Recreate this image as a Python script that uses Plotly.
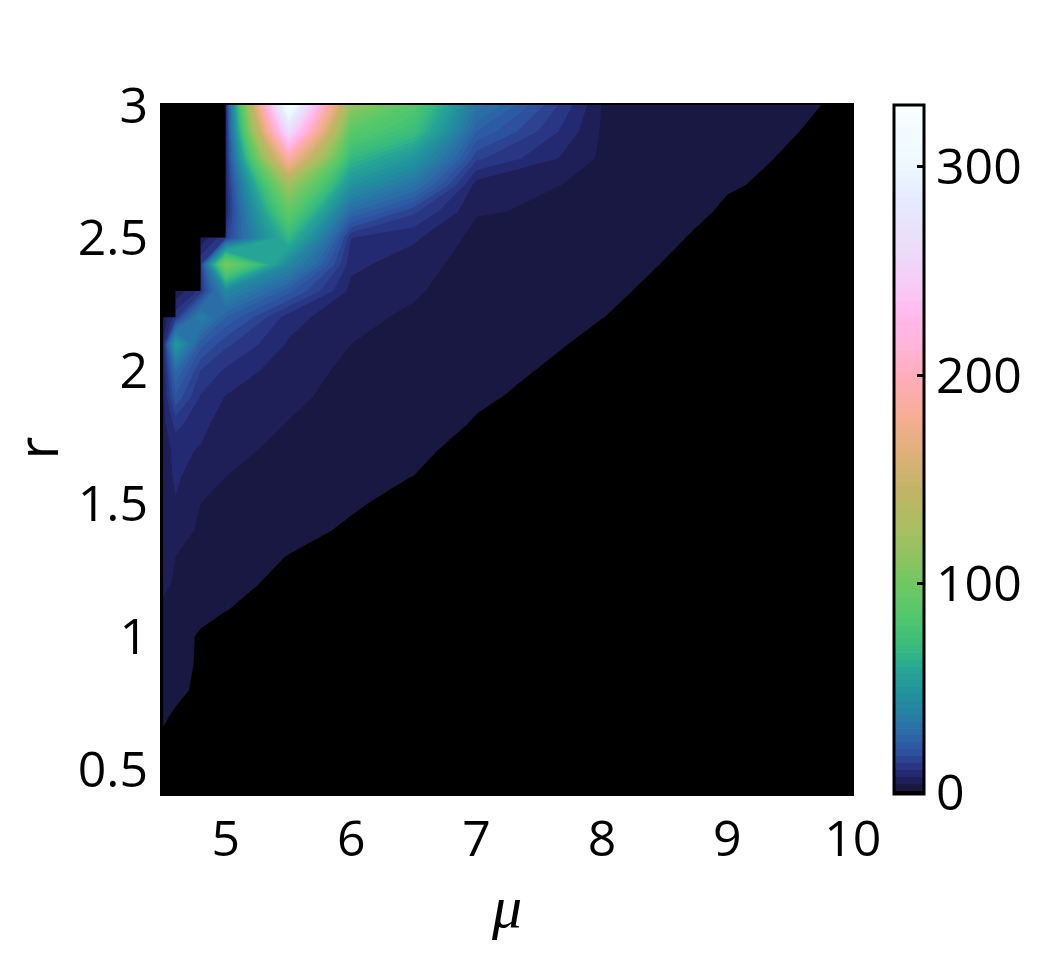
import plotly.graph_objects as go

nan = None
mu = [4.5, 4.6, 4.8, 5, 5.5, 6, 6.5, 7, 8, 9, 10]
r = [0.4, 0.5, 0.6, 0.7, 0.8, 0.9, 1.0, 1.1, 1.2, 1.3, 1.4, 1.5, 1.6, 1.7, 1.8, 1.9,
     2.0, 2.1, 2.2, 2.3, 2.4, 2.5, 2.6, 2.7, 2.8, 2.9, 3.0]

# one list per mu column, r ascending
c_4_5 = [0, 0, 0, 1.67, 2.2, 2.8, 3.5, 4.1, 4.5, 4.8, 5, 5.2, 5.5, 6, 6.5, 7, 7, 8, 5,
         nan, nan, nan, nan, nan, nan, nan, nan]
c_4_6 = [0, 0, 0, 0.33, 2.2, 3.6, 4.2, 4.1, 4.2, 4.3, 5.5, 7.3, 8.3, 8.5, 12, 20, 28, 52, 13, 5,
         nan, nan, nan, nan, nan, nan, nan]
c_4_8 = [0, 0, 0, 0, 0, 0, 0, 3.3, 3.4, 3.6, 3.9, 4.3, 5.2, 7.3, 8.6, 10.5, 14, 22, 38, 12, 14, 5,
         nan, nan, nan, nan, nan]
c_5_0 = [0, 0, 0, 0, 0, 0, 0, 1.05, 2.17, 2.6, 3, 3.6, 4.3, 5, 6, 7.4, 10.3, 15, 24, 42, 105, 14,
         8, 8, 8, 8, 8]
c_5_5 = [0, 0, 0, 0, 0, 0, 0, 0, 0, 0.9, 2, 2.8, 3.2, 3.6, 4.2, 4.87, 5.3, 7.2, 9, 22, 42, 68,
         92, 122, 190, 265, 328]
c_6_0 = [0, 0, 0, 0, 0, 0, 0, 0, 0, 0, 0.57, 1.35, 1.5, 2.7, 3, 3.4, 3.8, 4.3, 5.1, 6.5, 8.5, 11,
         28, 48, 68, 88, 115]
c_6_5 = [0, 0, 0, 0, 0, 0, 0, 0, 0, 0, 0, 0, 0.97, 1.6, 1.9, 2.2, 2.6, 3.1, 3.77, 4.7, 5.74, 8.2,
         15, 32, 50, 72, 85]
c_7_0 = [0, 0, 0, 0, 0, 0, 0, 0, 0, 0, 0, 0, 0, 0, 0.85, 1.25, 1.6, 2.35, 2.4, 2.6, 2.8, 3.2,
         4.6, 6, 15, 24, 33]
c_8_0 = [0, 0, 0, 0, 0, 0, 0, 0, 0, 0, 0, 0, 0, 0, 0, 0, 0.3, 0.5, 1.02, 1.32, 1.85, 3,
         3.4, 3.5, 3.7, 3.9, 4.2]
c_9_0 = [0, 0, 0, 0, 0, 0, 0, 0, 0, 0, 0, 0, 0, 0, 0, 0, 0, 0, 0, 0, 0, 0,
         0.7, 1.18, 1.6, 2.35, 4]
c_10_0 = [0, 0, 0, 0, 0, 0, 0, 0, 0, 0, 0, 0, 0, 0, 0, 0, 0, 0, 0, 0, 0, 0, 0, 0, 0, 0, 0]

columns = [c_4_5, c_4_6, c_4_8, c_5_0, c_5_5, c_6_0, c_6_5, c_7_0, c_8_0, c_9_0, c_10_0]

# The gap at the top left ends on sharp stair edges, so each edge gets a grid line right beside it.
EPS = 0.001
grid_mu, grid_cols = [], []
for m, col in zip(mu, columns):
    if m in (4.6, 4.8, 5):
        prev = columns[mu.index(m) - 1]
        top = max(i for i, v in enumerate(prev) if v is not None)
        grid_mu.append(m - EPS)
        grid_cols.append([col[i] if i <= top else nan for i in range(len(r))])
    grid_mu.append(m)
    grid_cols.append(col)

stair_rows = [2.2, 2.3, 2.5]
grid_r, z = [], []
for i, rv in enumerate(r):
    row = [c[i] for c in grid_cols]
    grid_r.append(rv)
    z.append(row)
    if rv in stair_rows:
        grid_r.append(rv + EPS)
        z.append([row[j] if grid_cols[j][i + 1] is not None else nan for j in range(len(row))])

stop_values = [2.65, 6, 8, 11, 20, 30, 44, 59, 68, 83, 100, 111, 128, 145, 162, 178, 200, 217,
               231, 245, 265, 284, 300, 329]
stop_colors = ["#191842", "#1e1f57", "#22266a", "#272f7c", "#2e55a2", "#2a6fa8", "#228c9f",
               "#26a596", "#36b982", "#4fc76d", "#6fc864", "#8cc45f", "#abbe63", "#c3b466",
               "#ddb07a", "#f5ae90", "#ffadbe", "#ffb5de", "#ffbcef", "#f5cef8", "#eadffa",
               "#e5ebff", "#eef7ff", "#f8ffff"]

level_start, level_size, level_end = 1, 3.3, 327.7
low = level_start - level_size / 2
span = 100 * level_size
scale = [[0, "#000000"]] + [[(v - low) / span, c] for v, c in zip(stop_values, stop_colors)]
scale.append([1, "#f8ffff"])

fig = go.Figure(go.Contour(
    x=grid_mu, y=grid_r, z=z, zmin=0, zmax=329, colorscale=scale, connectgaps=False,
    autocontour=False,
    contours=dict(start=level_start, end=level_end, size=level_size, coloring="fill"),
    line=dict(width=0, smoothing=0),
    colorbar=dict(
        x=1.0577, xanchor="left", xpad=0, y=0.5, yanchor="middle", ypad=0, len=1.0,
        thickness=30, thicknessmode="pixels", outlinewidth=3, outlinecolor="black",
        borderwidth=0, ticks="inside", ticklen=8, tickwidth=3, tickcolor="black",
        tickvals=[0, 100, 200, 300], ticktext=["0", "100", "200", "300"],
        tickfont=dict(size=50, color="black"),
    ),
))

fig.update_layout(
    width=1040, height=942,
    margin=dict(l=152, r=194, t=97, b=156),
    paper_bgcolor="white", plot_bgcolor="black",
    font=dict(family="Open Sans", color="black"),
    xaxis=dict(
        automargin=False,
        range=[4.475, 10.01], showgrid=False, zeroline=False, showline=True, mirror=True,
        linecolor="black", linewidth=2, ticks="", tickvals=[5, 6, 7, 8, 9, 10],
        ticktext=["5", "6", "7", "8", "9", "10"], tickfont=dict(size=50),
        title=dict(text="<i>μ</i>", font=dict(size=60, family="Liberation Serif"), standoff=15),
    ),
    yaxis=dict(
        automargin=False,
        range=[0.4075, 3], showgrid=False, zeroline=False, showline=False, ticks="",
        ticklabelstandoff=11,
        tickvals=[0.5, 1, 1.5, 2, 2.5, 3],
        ticktext=["0.5", "1", "1.5", "2", "2.5", "3"], tickfont=dict(size=50),
    ),
)
fig.add_annotation(
    text="r", xref="paper", yref="paper", x=-0.178, y=0.502, xanchor="center", yanchor="middle",
    textangle=-90, showarrow=False, font=dict(size=56, color="black"),
)

fig.write_html("out.html")
